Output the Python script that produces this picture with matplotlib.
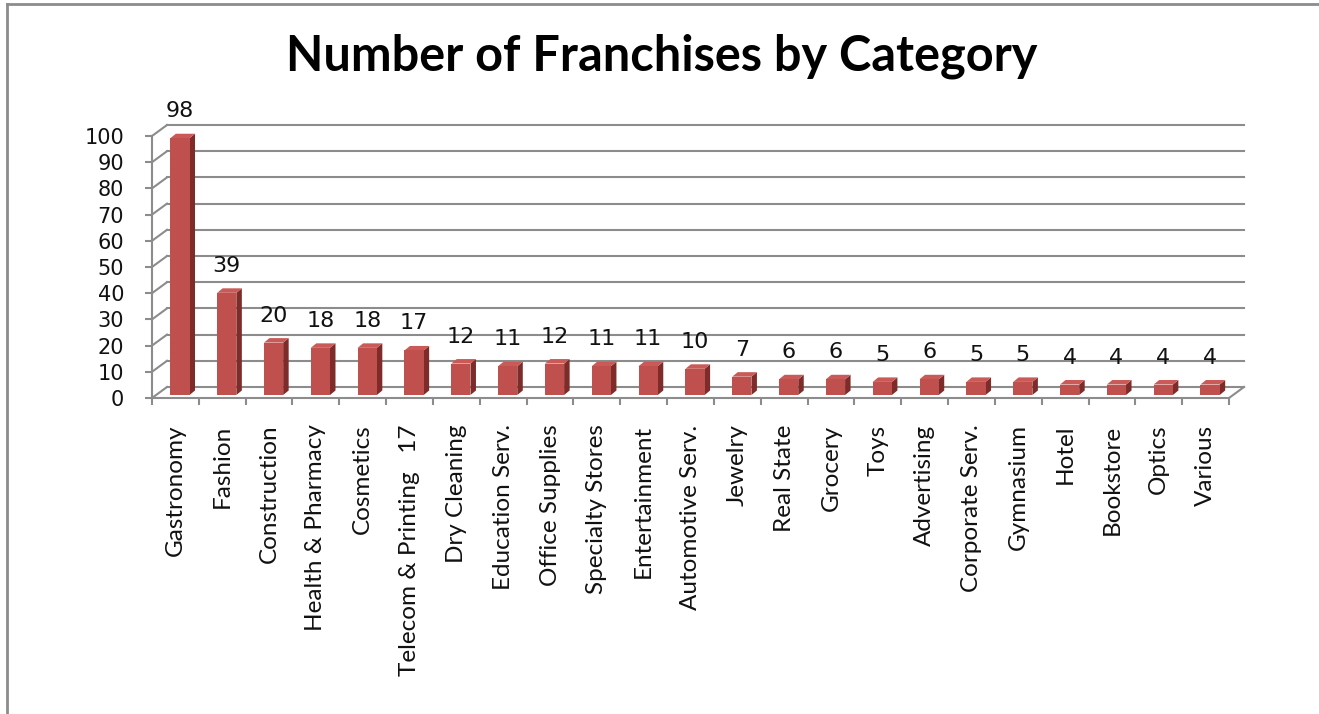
import matplotlib.pyplot as plt
from matplotlib.patches import Polygon
from matplotlib.lines import Line2D
import numpy as np

# data
categories = ["Gastronomy", "Fashion", "Construction", "Health & Pharmacy", "Cosmetics",
              "Telecom & Printing   17", "Dry Cleaning", "Education Serv.", "Office Supplies",
              "Specialty Stores", "Entertainment", "Automotive Serv.", "Jewelry", "Real State",
              "Grocery", "Toys", "Advertising", "Corporate Serv.", "Gymnasium", "Hotel",
              "Bookstore", "Optics", "Various"]
counts = [98, 39, 20, 18, 18, 17, 12, 11, 12, 11, 11, 10, 7, 6, 6, 5, 6, 5, 5, 4, 4, 4, 4]
y_ticks = list(range(0, 101, 10))
title = "Number of Franchises by Category"

W, H = 1319, 714
GRID = "#8c8c8c"
FRONT = "#C0504D"
SIDE = "#7E2C2A"
TOP = "#C95A57"

fig = plt.figure(figsize=(W / 100, H / 100), dpi=100)
fig.patch.set_facecolor("white")

# plot area (front plane) in pixels: x 152..1229, y 136..398 from top
left, right, top, bottom = 152, 1229, 136, 398
ax = fig.add_axes([left / W, (H - bottom) / H, (right - left) / W, (bottom - top) / H])
n = len(categories)
ax.set_xlim(-0.5, n - 0.5)
ax.set_ylim(0, 100)

# pixel -> data conversion for the fake 3D depth
ux = n / (right - left)
uy = 100 / (bottom - top)
wall_dx, wall_dy = 15 * ux, 11 * uy     # back wall offset
bar_dx, bar_dy = 4.5 * ux, 3 * uy       # bars sit a bit behind the front plane
dep_dx, dep_dy = 5.5 * ux, 4.5 * uy     # bar depth

for s in ["top", "right"]:
    ax.spines[s].set_visible(False)
for s in ["left", "bottom"]:
    ax.spines[s].set_color(GRID)
    ax.spines[s].set_linewidth(1.5)

# back wall gridlines and side wall diagonals
for yv in y_ticks:
    ax.plot([-0.5 + wall_dx, n - 0.5 + wall_dx], [yv + wall_dy, yv + wall_dy],
            color=GRID, lw=1.5, clip_on=False, zorder=1)
    ax.plot([-0.5, -0.5 + wall_dx], [yv, yv + wall_dy],
            color=GRID, lw=1.5, clip_on=False, zorder=1)
# right edge of the floor
ax.plot([n - 0.5, n - 0.5 + wall_dx], [0, wall_dy], color=GRID, lw=1.5, clip_on=False, zorder=1)

# bars: front face, side face, top face
x = np.arange(n)
bw = 0.41
ax.bar(x + bar_dx, counts, width=bw, bottom=bar_dy, color=FRONT, zorder=3)
for xi, v in zip(x, counts):
    xl = xi + bar_dx - bw / 2
    xr = xi + bar_dx + bw / 2
    yt = v + bar_dy
    side = Polygon([(xr, bar_dy), (xr, yt), (xr + dep_dx, yt + dep_dy), (xr + dep_dx, bar_dy + dep_dy)],
                   closed=True, facecolor=SIDE, edgecolor="none", zorder=2.9, clip_on=False)
    top_face = Polygon([(xl, yt), (xr, yt), (xr + dep_dx, yt + dep_dy), (xl + dep_dx, yt + dep_dy)],
                       closed=True, facecolor=TOP, edgecolor="none", zorder=2.9, clip_on=False)
    ax.add_patch(side)
    ax.add_patch(top_face)
    ax.annotate(str(v), (xi + bar_dx, yt), xytext=(0, 17), textcoords="offset pixels",
                ha="center", va="bottom", fontsize=16, family="DejaVu Sans",
                color="#111111", annotation_clip=False)

# ticks
ax.set_yticks(y_ticks)
ax.set_yticklabels([str(t) for t in y_ticks], fontsize=15, family="DejaVu Sans")
ax.tick_params(axis="y", length=5, width=1.5, color=GRID, pad=15, labelcolor="#111111")
ax.set_xticks(x)
ax.set_xticklabels(categories, rotation=90, fontsize=17.5, family="Lato")
ax.set_xticks(np.arange(-0.5, n, 1.0), minor=True)
ax.tick_params(axis="x", which="major", length=0, pad=19, labelcolor="#111111")
ax.tick_params(axis="x", which="minor", length=5, width=1.5, color=GRID)

fig.text(0.502, 1 - 56 / H, title, ha="center", va="center", fontsize=35,
         fontweight="bold", family="Lato", color="black")

# chart frame (top and left edges visible)
fig.add_artist(Line2D([7 / W, 1], [1 - 4 / H, 1 - 4 / H], transform=fig.transFigure, color=GRID, lw=2))
fig.add_artist(Line2D([7 / W, 7 / W], [0, 1 - 4 / H], transform=fig.transFigure, color=GRID, lw=2))

fig.savefig("out.png", dpi=100)
